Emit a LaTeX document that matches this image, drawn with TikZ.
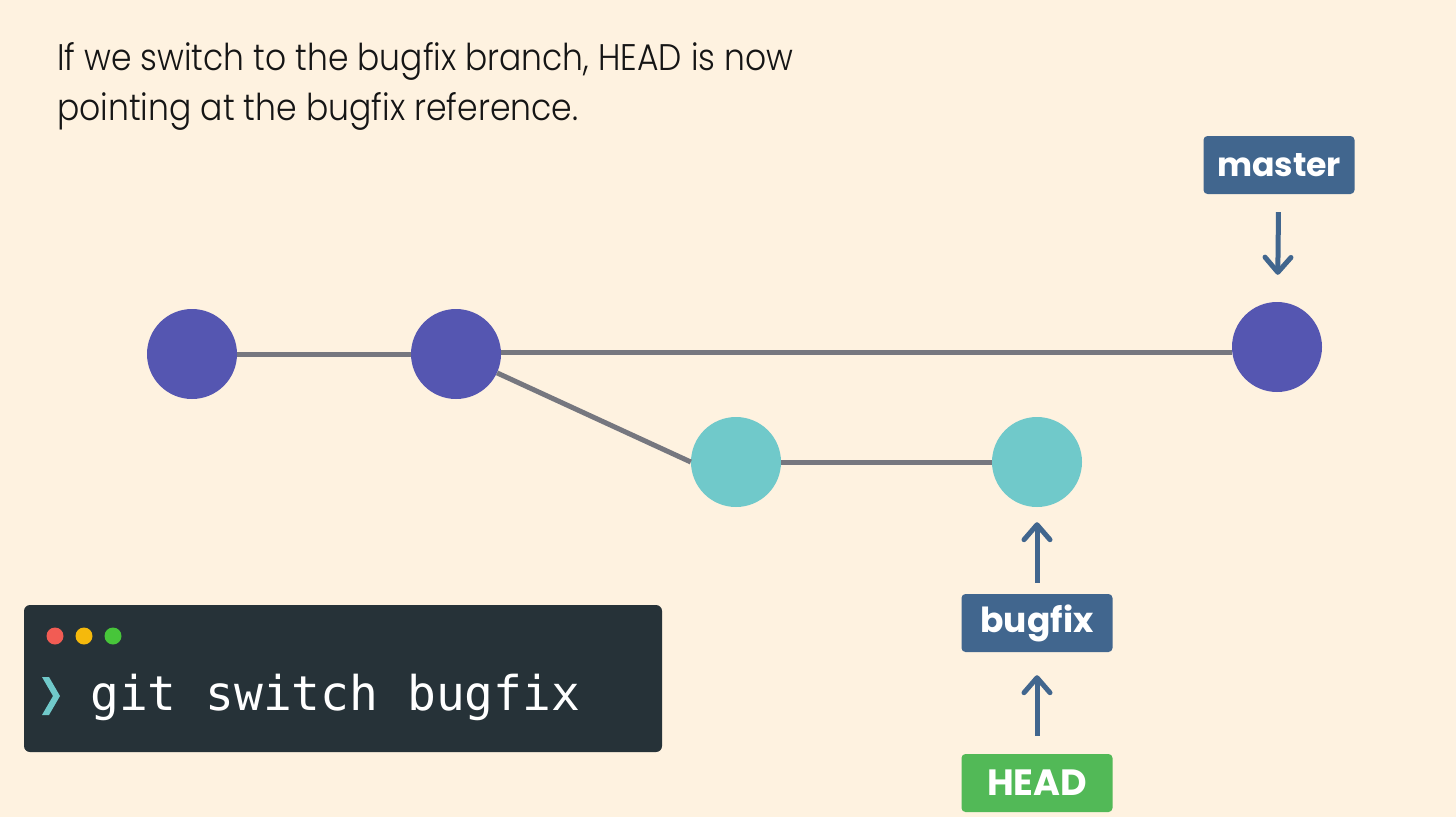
\documentclass[tikz,border=0pt]{standalone}
\usepackage{fontspec}
\setmainfont{Poppins}
\newfontfamily\titlefont{Poppins Light}
\newfontfamily\monofont{DejaVu Sans Mono}
\usetikzlibrary{arrows.meta}
\definecolor{bg}{HTML}{FEF2E0}
\definecolor{cpurple}{HTML}{5556B1}
\definecolor{cteal}{HTML}{70C9CA}
\definecolor{cline}{HTML}{76777F}
\definecolor{cblue}{HTML}{41668E}
\definecolor{cgreen}{HTML}{52B957}
\definecolor{term}{HTML}{263238}
\definecolor{dred}{HTML}{F25C54}
\definecolor{dyellow}{HTML}{F5B90C}
\definecolor{dgreen}{HTML}{47C53A}
\definecolor{ink}{HTML}{151515}
\tikzset{
  commit/.style={circle, minimum size=90pt, inner sep=0pt, fill=#1},
  edge/.style={draw=cline, line width=5pt},
  label/.style={rounded corners=4pt, fill=#1, text=white, minimum width=151pt, minimum height=58pt, inner sep=0pt, font=\bfseries},
  ptr/.style={draw=cblue, line width=5pt, -{Straight Barb[length=15pt,width=26pt,line width=5pt,round]}},
  dot/.style={circle, minimum size=17pt, inner sep=0pt, fill=#1}
}
\begin{document}
\begin{tikzpicture}[x=1pt,y=-1pt]
\fill[bg] (0,0) rectangle (1456,817);
\useasboundingbox (0,0) rectangle (1456,817);
% title
\node[anchor=base west, inner sep=0pt, text=ink] (t1) at (57,70) {\resizebox{736pt}{28pt}{\titlefont If we switch to the bugfix branch, HEAD is now}};
\node[anchor=base west, inner sep=0pt, text=ink] (t2) at (57,120) {\resizebox{521pt}{28pt}{\titlefont pointing at the bugfix reference.}};
% commits
\node[commit=cpurple] (c1) at (192,354) {};
\node[commit=cpurple] (c2) at (456,354) {};
\node[commit=cpurple] (c3) at (1277,347) {};
\node[commit=cteal] (c4) at (736,462) {};
\node[commit=cteal] (c5) at (1037,462) {};
\draw[edge] (c1) -- (c2);
\draw[edge] (c2.east |- 0,352) -- (c3.west |- 0,352);
\draw[edge] (c2) -- (c4.west);
\draw[edge] (c4) -- (c5);
% labels
\node[label=cblue] (master) at (1279,165) {\resizebox{124pt}{!}{master}};
\node[label=cblue] (bugfix) at (1037,623) {\resizebox{113pt}{!}{bugfix}};
\node[label=cgreen] (head) at (1037,783) {\resizebox{100pt}{!}{HEAD}};
\draw[ptr, shorten <=18pt, shorten >=27pt] (master) -- (c3);
\draw[ptr, shorten <=11pt, shorten >=15pt] (bugfix) -- (c5);
\draw[ptr, shorten <=18pt, shorten >=23pt] (head) -- (bugfix);
% terminal
\node[fill=term, rounded corners=6pt, minimum width=638pt, minimum height=147pt, inner sep=0pt] (termbox) at (343,678.5) {};
\node[dot=dred] (d1) at (55,636) {};
\node[dot=dyellow] (d2) at (84,636) {};
\node[dot=dgreen] (d3) at (113,636) {};
\fill[cteal] (42,677) -- (49,677) -- (60,696) -- (49,715) -- (42,715) -- (53,696) -- cycle;
\node[anchor=base west, inner sep=0pt, text=white] (cmd) at (90,710) {\resizebox{490pt}{!}{\monofont git switch bugfix}};
\end{tikzpicture}
\end{document}
